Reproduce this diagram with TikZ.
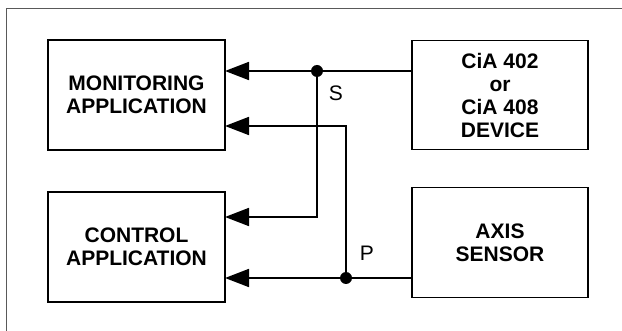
\documentclass[tikz,border=0pt]{standalone}
\usepackage{fontspec}
\setmainfont{Liberation Sans}
\usepackage{tikz}
\usetikzlibrary{arrows.meta,positioning}

\begin{document}
\begin{tikzpicture}[
x=1pt, y=-1pt,
box/.style={draw, line width=1.8pt, align=center, inner sep=0pt, outer sep=0pt, minimum width=177pt, minimum height=110pt, font=\bfseries\fontsize{21}{23}\selectfont},
dot/.style={circle, fill, inner sep=0pt, minimum size=12pt},
lbl/.style={font=\fontsize{21}{23}\selectfont},
arr/.style={-{Triangle[length=24pt,width=18pt]}, line width=1.8pt},
wire/.style={line width=1.8pt}
]
\useasboundingbox (0,0) rectangle (622,331);
\draw[gray!70!black, line width=0.9pt] (6,331) -- (6,8) -- (622,8);

\node[box] (mon) at (136.5,95) {MONITORING\\APPLICATION};
\node[box, below=42pt of mon] (ctrl) {CONTROL\\APPLICATION};
\node[box, right=187pt of mon, minimum width=176pt, minimum height=109pt] (cia) {CiA 402\\or\\CiA 408\\DEVICE};
\node[box, below=38pt of cia, minimum width=176pt] (axis) {AXIS\\SENSOR};

\node[dot] (sjoin) at (317,71) {};
\node[dot] (pjoin) at (346,278) {};
\coordinate (sturn) at (317,217);
\coordinate (pturn) at (346,126);

\draw[wire] (cia.west |- sjoin) -- (sjoin.center);
\draw[arr] (sjoin.center) -- (sjoin -| mon.east);
\draw[arr] (sjoin.center) -- (sturn) -- (sturn -| ctrl.east);

\draw[wire] (axis.west |- pjoin) -- (pjoin.center);
\draw[arr] (pjoin.center) -- (pjoin -| ctrl.east);
\draw[arr] (pjoin.center) -- (pturn) -- (pturn -| mon.east);

\node[lbl] (slbl) at (336,93) {S};
\node[lbl] (plbl) at (367,253) {P};

\end{tikzpicture}
\end{document}
